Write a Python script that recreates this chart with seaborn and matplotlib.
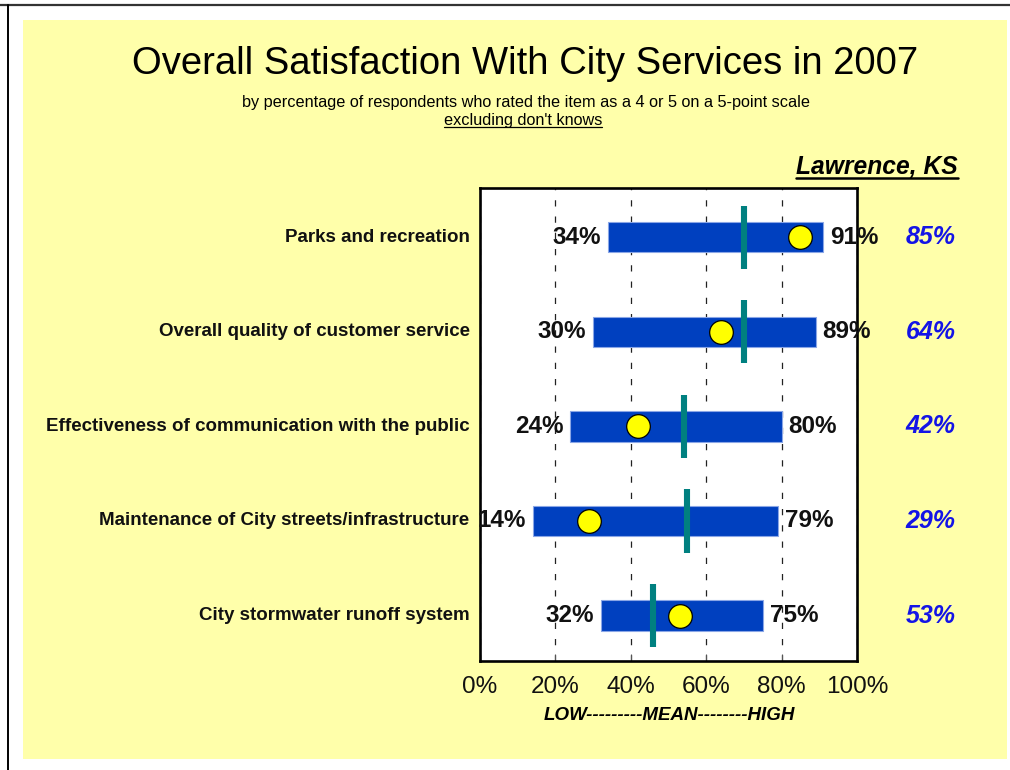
import matplotlib
matplotlib.use("Agg")
import matplotlib.pyplot as plt
import seaborn as sns
import pandas as pd
from matplotlib.lines import Line2D
from matplotlib.patches import Rectangle

# Survey results: share of respondents rating each service 4 or 5 (of 5)
categories = [
    "Parks and recreation",
    "Overall quality of customer service",
    "Effectiveness of communication with the public",
    "Maintenance of City streets/infrastructure",
    "City stormwater runoff system",
]
low = [34, 30, 24, 14, 32]
high = [91, 89, 80, 79, 75]
mean = [70, 70, 54, 55, 46]
lawrence = [85, 64, 42, 29, 53]
x_ticks = [0, 20, 40, 60, 80, 100]
x_tick_labels = [f"{t}%" for t in x_ticks]

df = pd.DataFrame({
    "service": categories,
    "pos": range(len(categories)),
    "low": low,
    "high": high,
    "mean": mean,
    "lawrence": lawrence,
})

sns.set_theme(style="white")
plt.rcParams["font.family"] = ["Liberation Sans", "DejaVu Sans"]

W, H = 1010, 770
fig = plt.figure(figsize=(W / 100, H / 100), dpi=100, facecolor="white")

# page frame and yellow panel
fig.add_artist(Rectangle((23 / W, 1 - 759 / H), (1007 - 23) / W, (759 - 20) / H,
                         transform=fig.transFigure, facecolor="#FFFFAA",
                         edgecolor="none", zorder=-5))
fig.add_artist(Line2D([0, 1], [1 - 4.5 / H, 1 - 4.5 / H], transform=fig.transFigure,
                      color="#333333", lw=1.6))
fig.add_artist(Line2D([7.5 / W, 7.5 / W], [0, 1 - 4.5 / H], transform=fig.transFigure,
                      color="black", lw=1.4))

ax = fig.add_axes([480 / W, (H - 661) / H, 377 / W, 473 / H])
ax.set_facecolor("white")

# range bars (low -> high)
ax.barh(df["pos"], df["high"] - df["low"], left=df["low"], height=0.32,
        color="#0040BF", edgecolor="#8aa6e6", linewidth=0.8, zorder=3)

# mean markers
ax.vlines(df["mean"], df["pos"] - 0.335, df["pos"] + 0.335, color="#008080",
          linewidth=4.4, zorder=4)

# Lawrence results
sns.scatterplot(data=df, x="lawrence", y="pos", s=290, color="#FFFF00",
                edgecolor="black", linewidth=0.9, zorder=5, ax=ax, legend=False)

ax.set_xlim(0, 100)
ax.set_ylim(len(categories) - 0.52, -0.52)
ax.set_xticks(x_ticks)
ax.set_xticklabels(x_tick_labels, fontsize=17.5, color="#111111")
ax.set_yticks([])
ax.set_xlabel("")
ax.set_ylabel("")
ax.tick_params(axis="x", direction="in", length=5, width=0.8, color="#555555",
               pad=11, bottom=True)
ax.grid(axis="x", color="#222222", linestyle=(0, (5, 8)), linewidth=0.9, zorder=1)
ax.set_axisbelow(True)
for sp in ax.spines.values():
    sp.set_visible(True)
    sp.set_color("black")
    sp.set_linewidth(1.9)

value_font = dict(fontsize=17.5, fontweight="bold", color="#111111", va="center")
for _, r in df.iterrows():
    ax.annotate(f"{r['low']}%", xy=(r["low"], r["pos"]), xytext=(-5, 0),
                textcoords="offset points", ha="right", **value_font, zorder=6)
    ax.annotate(f"{r['high']}%", xy=(r["high"], r["pos"]), xytext=(5, 0),
                textcoords="offset points", ha="left", **value_font, zorder=6)
    ax.annotate(r["service"], xy=(0, r["pos"]), xycoords=("axes fraction", "data"),
                xytext=(-7.5, 0), textcoords="offset points", ha="right", va="center",
                fontsize=13.5, fontweight="bold", color="#111111", annotation_clip=False)
    ax.annotate(f"{r['lawrence']}%", xy=(1, r["pos"]), xycoords=("axes fraction", "data"),
                xytext=(53, 0), textcoords="offset points", ha="center", va="center",
                fontsize=18, fontweight="bold", fontstyle="italic", color="#1414E6",
                annotation_clip=False)

fig.text(525 / W, 1 - 64 / H, "Overall Satisfaction With City Services in 2007",
         ha="center", va="center", fontsize=27.5, color="black")
fig.text(526 / W, 1 - 103 / H,
         "by percentage of respondents who rated the item as a 4 or 5 on a 5-point scale",
         ha="center", va="center", fontsize=11.7, color="black")
sub2 = fig.text(523 / W, 1 - 121 / H, "excluding don't knows",
                ha="center", va="center", fontsize=11.7, color="black")
place = fig.text(958 / W, 1 - 167 / H, "Lawrence, KS", ha="right", va="center",
                 fontsize=17.7, fontweight="bold", fontstyle="italic", color="black")
fig.text(669 / W, 1 - 716 / H, "LOW---------MEAN--------HIGH", ha="center", va="center",
         fontsize=13.5, fontweight="bold", fontstyle="italic", color="black")

# underline selected texts
fig.canvas.draw()
renderer = fig.canvas.get_renderer()
for t, lw in [(sub2, 0.9), (place, 1.8)]:
    bb = t.get_window_extent(renderer)
    y = (bb.y0 + 1.5) / H
    fig.add_artist(Line2D([bb.x0 / W, bb.x1 / W], [y, y], transform=fig.transFigure,
                          color="black", lw=lw))

fig.savefig("out.png", dpi=100)
